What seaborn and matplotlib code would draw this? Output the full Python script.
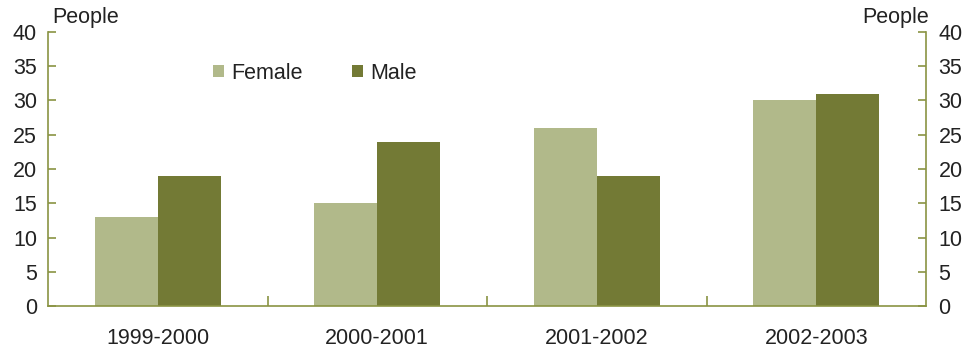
import numpy as np
import pandas as pd
import matplotlib
matplotlib.use("Agg")
import matplotlib.pyplot as plt
import seaborn as sns

years = ["1999-2000", "2000-2001", "2001-2002", "2002-2003"]
female = [13, 15, 26, 30]
male = [19, 24, 19, 31]
yticks = [0, 5, 10, 15, 20, 25, 30, 35, 40]

df = pd.DataFrame({
    "year": years * 2,
    "people": female + male,
    "sex": ["Female"] * len(years) + ["Male"] * len(years),
})

sns.set_style("white")
plt.rcParams["font.family"] = ["Liberation Sans", "DejaVu Sans"]

axis_col = "#8a9343"
txt = "#222222"
fs = 15.5
fig = plt.figure(figsize=(9.72, 3.52), dpi=100)
ax = fig.add_axes([48 / 972, 46 / 352, 878 / 972, 274 / 352])

sns.barplot(data=df, x="year", y="people", hue="sex",
            palette={"Female": "#b1b98a", "Male": "#737a35"},
            width=0.575, saturation=1, linewidth=0, ax=ax)

ax.set_ylim(0, 40)
ax.set_xlim(-0.5, 3.5)
ax.set_yticks(yticks)
ax.set_xlabel("")
ax.set_ylabel("")

for s in ["left", "right", "bottom"]:
    ax.spines[s].set_color(axis_col)
    ax.spines[s].set_linewidth(1.2)
ax.spines["top"].set_visible(False)

ax.tick_params(axis="y", direction="in", length=6, width=1.2, color=axis_col,
               labelsize=fs, pad=8, left=True, labelcolor=txt)
ax.set_xticks(range(len(years)))
ax.set_xticklabels(years)
ax.tick_params(axis="x", length=0, labelsize=fs, pad=16, labelcolor=txt)
ax.set_xticks([0.5, 1.5, 2.5], minor=True)
ax.tick_params(axis="x", which="minor", direction="in", length=7, width=1.2,
               color=axis_col, bottom=True)

ax2 = ax.twinx()
ax2.set_ylim(0, 40)
ax2.set_yticks(yticks)
for s in ax2.spines.values():
    s.set_visible(False)
ax2.tick_params(axis="y", direction="in", length=6, width=1.2, color=axis_col,
                labelsize=fs, pad=9, labelcolor=txt)

fig.text(52 / 972, 1 - 17 / 352, "People", fontsize=fs, va="center",
         ha="left", color=txt)
fig.text(929 / 972, 1 - 17 / 352, "People", fontsize=fs, va="center",
         ha="right", color=txt)

ax.legend(loc="center left", bbox_to_anchor=(0.166, 0.85), ncol=2,
          frameon=False, fontsize=fs, handlelength=0.5, handleheight=0.5,
          columnspacing=2.3, handletextpad=0.35, labelcolor=txt)

fig.savefig("out.png", dpi=100)
